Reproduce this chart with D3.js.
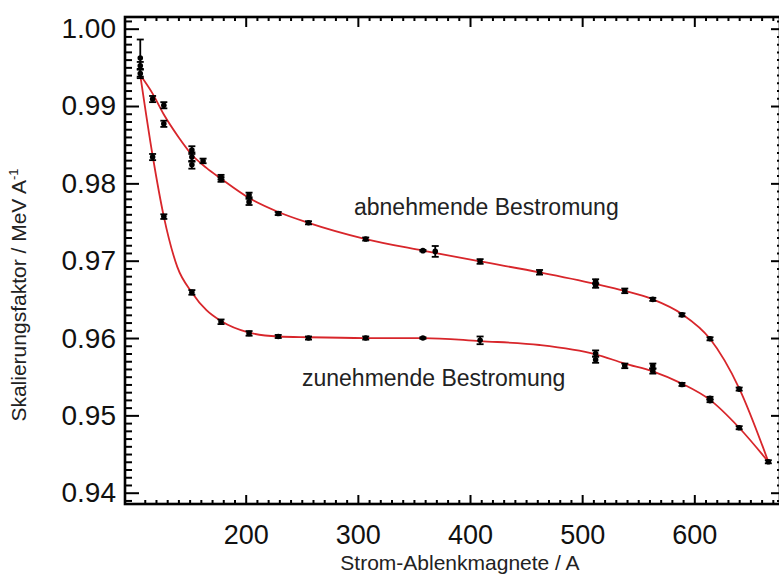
<!DOCTYPE html>
<html><head><meta charset="utf-8">
<script src="https://cdn.jsdelivr.net/npm/d3@7"></script>
<style>body{margin:0;background:#fff}svg{display:block}</style>
</head><body>
<svg id="chart" width="779" height="576"></svg>
<script>
// ---- data ----
const xTickValues = [200, 300, 400, 500, 600];
const xTickLabels = ["200", "300", "400", "500", "600"];
const yTickValues = [0.94, 0.95, 0.96, 0.97, 0.98, 0.99, 1.00];
const yTickLabels = ["0.94", "0.95", "0.96", "0.97", "0.98", "0.99", "1.00"];

// abnehmende Bestromung (upper branch) measured points
const decCurrent = [106, 106, 106, 117, 127, 127, 152, 152, 152, 162, 178, 178, 203, 203, 229, 256, 307, 358, 369, 409, 462, 512, 512, 538, 563, 589, 614, 640, 666];
const decFactor  = [0.9962, 0.9952, 0.9942, 0.9909, 0.9901, 0.9877, 0.9843, 0.9834, 0.9824, 0.9829, 0.9808, 0.9805, 0.9785, 0.9776, 0.9761, 0.9749, 0.9728, 0.9713, 0.9712, 0.9699, 0.9685, 0.9673, 0.9668, 0.9661, 0.9650, 0.9630, 0.9599, 0.9534, 0.9440];
const decError   = [0.0024, 0.0005, 0.0006, 0.0004, 0.0004, 0.0004, 0.0005, 0.0006, 0.0005, 0.0003, 0.0003, 0.0003, 0.0003, 0.0004, 0.0002, 0.0002, 0.0002, 0.0001, 0.0007, 0.0003, 0.0003, 0.0003, 0.0003, 0.0003, 0.0002, 0.0002, 0.0002, 0.0002, 0.0002];

// zunehmende Bestromung (lower branch) measured points
const incCurrent = [117, 127, 152, 178, 203, 229, 256, 307, 358, 409, 512, 512, 538, 563, 563, 589, 614, 614, 640];
const incFactor  = [0.9834, 0.9757, 0.9659, 0.9621, 0.9606, 0.9602, 0.9600, 0.9600, 0.9600, 0.9597, 0.9580, 0.9572, 0.9564, 0.9564, 0.9557, 0.9540, 0.9522, 0.9519, 0.9484];
const incError   = [0.0004, 0.0003, 0.0003, 0.0003, 0.0003, 0.0002, 0.0002, 0.0002, 0.0001, 0.0005, 0.0004, 0.0004, 0.0003, 0.0003, 0.0003, 0.0002, 0.0002, 0.0002, 0.0002];

// fitted curves (red)
const decFitCurrent = [106, 117, 127, 140, 152, 165, 178, 203, 229, 256, 307, 358, 409, 462, 512, 538, 563, 589, 614, 640, 666];
const decFitFactor  = [0.9940, 0.9916, 0.9889, 0.9860, 0.9837, 0.9820, 0.9806, 0.9781, 0.9763, 0.9749, 0.9728, 0.9713, 0.9699, 0.9685, 0.9670, 0.9661, 0.9650, 0.9631, 0.9599, 0.9535, 0.9440];
const incFitCurrent = [106, 117, 127, 139, 152, 165, 178, 203, 229, 256, 307, 358, 409, 462, 512, 538, 563, 589, 614, 640, 666];
const incFitFactor  = [0.9940, 0.9836, 0.9757, 0.9692, 0.9659, 0.9636, 0.9622, 0.9607, 0.9602, 0.9601, 0.9600, 0.9600, 0.9596, 0.9591, 0.9579, 0.9567, 0.9557, 0.9541, 0.9520, 0.9484, 0.9440];

// ---- layout ----
const L = 125, R = 780, T = 17, B = 504;
const svg = d3.select("#chart");
const font = "'Liberation Sans', Arial, Helvetica, sans-serif";

const x = d3.scaleLinear().domain([92.38, 676.4]).range([L, R]);
const y = d3.scaleLinear().domain([0.93854, 1.00151]).range([B, T]);

const xMinor = d3.range(100, 680, 10).filter(v => v % 100 !== 0);
const yMinor = d3.range(939, 1002, 1).map(v => v / 1000).filter(v => Math.round(v * 1000) % 10 !== 0);

function styleAxis(g) {
  g.select(".domain").remove();
  g.selectAll(".tick line").attr("stroke", "#000").attr("stroke-width", 2);
}

// bottom
svg.append("g").attr("transform", `translate(0,${B})`)
  .call(d3.axisBottom(x).tickValues(xMinor).tickSize(-4).tickFormat(""))
  .call(styleAxis);
svg.append("g").attr("transform", `translate(0,${B})`)
  .call(d3.axisBottom(x).tickValues(xTickValues).tickSize(-9).tickPadding(21).tickFormat((d, i) => xTickLabels[i]))
  .call(styleAxis)
  .call(g => g.selectAll("text").attr("font-family", font).attr("font-size", 27).attr("fill", "#111"));
// top
svg.append("g").attr("transform", `translate(0,${T})`)
  .call(d3.axisTop(x).tickValues(xMinor).tickSize(-4).tickFormat(""))
  .call(styleAxis);
svg.append("g").attr("transform", `translate(0,${T})`)
  .call(d3.axisTop(x).tickValues(xTickValues).tickSize(-10).tickFormat(""))
  .call(styleAxis);
// left
svg.append("g").attr("transform", `translate(${L},0)`)
  .call(d3.axisLeft(y).tickValues(yMinor).tickSize(-7).tickFormat(""))
  .call(styleAxis);
svg.append("g").attr("transform", `translate(${L},0)`)
  .call(d3.axisLeft(y).tickValues(yTickValues).tickSize(-14).tickPadding(9).tickFormat((d, i) => yTickLabels[i]))
  .call(styleAxis)
  .call(g => g.selectAll("text").attr("font-family", font).attr("font-size", 28).attr("fill", "#111"));
// right
svg.append("g").attr("transform", `translate(${R},0)`)
  .call(d3.axisRight(y).tickValues(yMinor).tickSize(-3).tickFormat(""))
  .call(styleAxis);
svg.append("g").attr("transform", `translate(${R},0)`)
  .call(d3.axisRight(y).tickValues(yTickValues).tickSize(-9).tickFormat(""))
  .call(styleAxis);

// frame
svg.append("rect").attr("x", L).attr("y", T).attr("width", R - L).attr("height", B - T)
  .attr("fill", "none").attr("stroke", "#000").attr("stroke-width", 2.6);

// fit curves
const line = d3.line().x(d => x(d[0])).y(d => y(d[1])).curve(d3.curveMonotoneX);
const red = "#d8262b";
svg.append("path").datum(decFitCurrent.map((c, i) => [c, decFitFactor[i]]))
  .attr("d", line).attr("fill", "none").attr("stroke", red).attr("stroke-width", 1.8);
svg.append("path").datum(incFitCurrent.map((c, i) => [c, incFitFactor[i]]))
  .attr("d", line).attr("fill", "none").attr("stroke", red).attr("stroke-width", 1.8);

// error-bar points
function drawPoints(cur, fac, err) {
  const g = svg.append("g").attr("stroke", "#000").attr("stroke-width", 1.8);
  cur.forEach((c, i) => {
    const cx = x(c), y0 = y(fac[i] - err[i]), y1 = y(fac[i] + err[i]);
    g.append("line").attr("x1", cx).attr("x2", cx).attr("y1", y0).attr("y2", y1);
    g.append("line").attr("x1", cx - 3.5).attr("x2", cx + 3.5).attr("y1", y0).attr("y2", y0);
    g.append("line").attr("x1", cx - 3.5).attr("x2", cx + 3.5).attr("y1", y1).attr("y2", y1);
    g.append("circle").attr("cx", cx).attr("cy", y(fac[i])).attr("r", 2.8).attr("fill", "#000").attr("stroke", "none");
  });
}
drawPoints(decCurrent, decFactor, decError);
drawPoints(incCurrent, incFactor, incError);

// labels
svg.append("text").attr("x", 354).attr("y", 215).attr("font-family", font).attr("font-size", 23).attr("fill", "#222")
  .text("abnehmende Bestromung");
svg.append("text").attr("x", 302).attr("y", 386).attr("font-family", font).attr("font-size", 23).attr("fill", "#222")
  .text("zunehmende Bestromung");

// axis titles
svg.append("text").attr("x", 460).attr("y", 570).attr("text-anchor", "middle")
  .attr("font-family", font).attr("font-size", 21).attr("fill", "#222")
  .text("Strom-Ablenkmagnete / A");
const yt = svg.append("text").attr("transform", `translate(26,295) rotate(-90)`)
  .attr("text-anchor", "middle").attr("font-family", font).attr("font-size", 21).attr("fill", "#222");
yt.append("tspan").text("Skalierungsfaktor / MeV A");
yt.append("tspan").attr("dy", -8).attr("font-size", 13).text("-1");
</script>
</body></html>
